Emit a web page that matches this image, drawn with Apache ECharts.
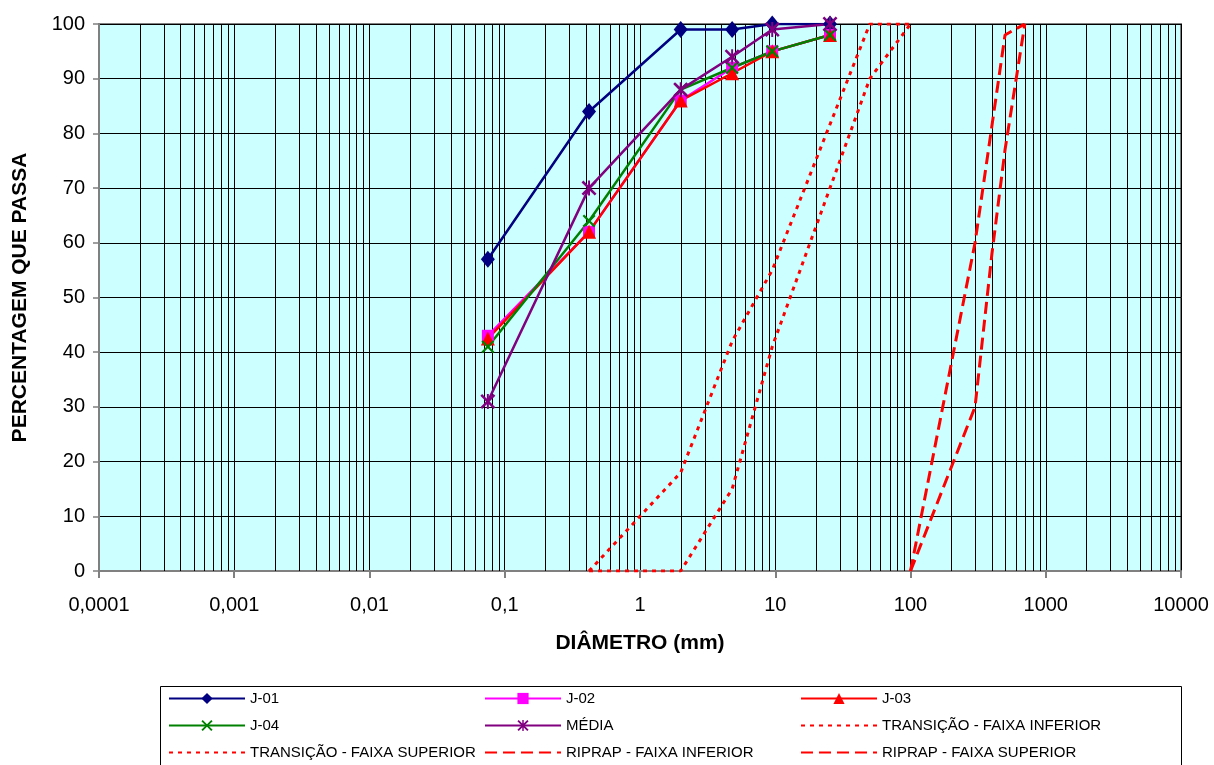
<!DOCTYPE html>
<html>
<head>
<meta charset="utf-8">
<script src="https://cdn.jsdelivr.net/npm/echarts@6/dist/echarts.min.js"></script>
<style>
html,body{margin:0;padding:0;background:#fff;}
#chart{width:1214px;height:765px;}
</style>
</head>
<body>
<div id="chart"></div>
<script>
// ---- data ----
const sieves = [0.075, 0.42, 2.0, 4.8, 9.5, 25.4];
const j01 = [57, 84, 99, 99, 100, 100];
const j02 = [43, 62, 86, 92, 95, 98];
const j03 = [42.5, 62, 86, 91, 95, 98];
const j04 = [41, 64, 88, 92, 95, 98];
const media = [31, 70, 88, 94, 99, 100];

const transInfD = [0.42, 2, 4.8, 9.5, 50, 100];
const transInfP = [0, 0, 15, 41, 90, 100];
const transSupD = [0.42, 1, 2, 4.8, 9.5, 50, 100];
const transSupP = [0, 10, 18, 42, 55, 100, 100];

const ripInfD = [100, 300, 400, 500, 700];
const ripInfP = [0, 30, 58, 77, 100];
const ripSupD = [100, 300, 500, 700];
const ripSupP = [0, 60, 98, 100];

const xTickValues = [0.0001, 0.001, 0.01, 0.1, 1, 10, 100, 1000, 10000];
const xTickLabels = ['0,0001', '0,001', '0,01', '0,1', '1', '10', '100', '1000', '10000'];

// minor log grid lines (2..9 x 10^k)
const minorGridX = [];
for (let k = -4; k <= 3; k++) {
  for (let m = 2; m <= 9; m++) minorGridX.push(+(m * Math.pow(10, k)).toPrecision(6));
}

function pairs(xs, ys) { return xs.map((x, i) => [x, ys[i]]); }

const FONT = 'Liberation Sans, Arial, sans-serif';
const X_PATH = 'path://M0,1.2 L1.2,0 L5,3.8 L8.8,0 L10,1.2 L6.2,5 L10,8.8 L8.8,10 L5,6.2 L1.2,10 L0,8.8 L3.8,5 Z';
const STAR_PATH = 'path://M0,1.2 L1.2,0 L5,3.8 L8.8,0 L10,1.2 L6.2,5 L10,8.8 L8.8,10 L5,6.2 L1.2,10 L0,8.8 L3.8,5 Z M4.35,0 L5.65,0 L5.65,10 L4.35,10 Z';

function dataSeries(name, ys, color, symbol, size) {
  return {
    name: name, type: 'line', data: pairs(sieves, ys), z: 4,
    symbol: symbol, symbolSize: size, showSymbol: true,
    lineStyle: { color: color, width: 2.5 },
    itemStyle: { color: color },
    emphasis: { disabled: true }
  };
}
function refSeries(name, xs, ys, dash) {
  return {
    name: name, type: 'line', data: pairs(xs, ys), z: 3,
    symbol: 'circle', showSymbol: false,
    lineStyle: { color: '#FF0000', width: 3, type: dash },
    itemStyle: { color: 'rgba(255,0,0,0)' },
    emphasis: { disabled: true }
  };
}

const chart = echarts.init(document.getElementById('chart'), null, { renderer: 'canvas' });

const legendCommon = {
  orient: 'vertical', top: 691, itemWidth: 76, itemHeight: 14, itemGap: 12,
  textStyle: { fontFamily: FONT, fontSize: 15, color: '#000' },
  selectedMode: false, padding: 0
};

chart.setOption({
  animation: false,
  backgroundColor: '#ffffff',
  grid: {
    left: 99, right: 33, top: 24, bottom: 194,
    show: true, backgroundColor: '#CCFFFF', borderColor: '#808080', borderWidth: 2
  },
  xAxis: {
    type: 'log', logBase: 10, min: 0.0001, max: 10000,
    name: 'DIÂMETRO (mm)', nameLocation: 'middle', nameGap: 62,
    nameTextStyle: { fontFamily: FONT, fontWeight: 'bold', fontSize: 21, color: '#000' },
    axisLine: { show: true, onZero: false, lineStyle: { color: '#808080', width: 2 } },
    axisTick: { show: true, inside: false, length: 7, lineStyle: { color: '#808080', width: 2 } },
    axisLabel: {
      margin: 24, fontFamily: FONT, fontSize: 20, color: '#000',
      formatter: function (v) {
        for (let i = 0; i < xTickValues.length; i++) {
          if (Math.abs(Math.log10(v) - Math.log10(xTickValues[i])) < 1e-6) return xTickLabels[i];
        }
        return '';
      }
    },
    splitLine: { show: true, lineStyle: { color: '#000', width: 1 } },
    minorTick: { show: false }, minorSplitLine: { show: false }
  },
  yAxis: {
    type: 'value', min: 0, max: 100, interval: 10,
    name: 'PERCENTAGEM QUE PASSA', nameLocation: 'middle', nameGap: 68, nameRotate: 90,
    nameTextStyle: { fontFamily: FONT, fontWeight: 'bold', fontSize: 21, color: '#000' },
    axisLine: { show: true, lineStyle: { color: '#808080', width: 2 } },
    axisTick: { show: true, inside: false, length: 6, lineStyle: { color: '#808080', width: 1.5 } },
    axisLabel: { margin: 14, fontFamily: FONT, fontSize: 20, color: '#000' },
    splitLine: { show: true, lineStyle: { color: '#000', width: 1 } }
  },
  legend: [
    Object.assign({}, legendCommon, { left: 168, data: ['J-01', 'J-04', 'TRANSIÇÃO - FAIXA SUPERIOR'] }),
    Object.assign({}, legendCommon, { left: 484, data: ['J-02', 'MÉDIA', 'RIPRAP - FAIXA INFERIOR'] }),
    Object.assign({}, legendCommon, { left: 800, data: ['J-03', 'TRANSIÇÃO - FAIXA INFERIOR', 'RIPRAP - FAIXA SUPERIOR'] })
  ],
  graphic: [{
    type: 'rect', left: 160, top: 686, z: -1,
    shape: { width: 1021, height: 90 },
    style: { fill: '#fff', stroke: '#000', lineWidth: 1 }
  }],
  series: [
    {
      name: '__grid', type: 'custom', z: 1, silent: true, clip: true,
      data: minorGridX.map(v => [v, 0]),
      encode: { x: 0, y: 1 },
      renderItem: function (params, api) {
        const v = api.value(0);
        const p1 = api.coord([v, 0]);
        const p2 = api.coord([v, 100]);
        const x = Math.round(p1[0]) + 0.5;
        return {
          type: 'line', silent: true,
          shape: { x1: x, y1: p1[1], x2: x, y2: p2[1] },
          style: { stroke: '#000', lineWidth: 1 }
        };
      }
    },
    dataSeries('J-01', j01, '#000080', 'diamond', [14, 17]),
    dataSeries('J-02', j02, '#FF00FF', 'rect', 12),
    dataSeries('J-03', j03, '#FF0000', 'triangle', 14),
    dataSeries('J-04', j04, '#008000', X_PATH, 13),
    dataSeries('MÉDIA', media, '#800080', STAR_PATH, 15),
    refSeries('TRANSIÇÃO - FAIXA INFERIOR', transInfD, transInfP, [4, 5]),
    refSeries('TRANSIÇÃO - FAIXA SUPERIOR', transSupD, transSupP, [4, 5]),
    refSeries('RIPRAP - FAIXA INFERIOR', ripInfD, ripInfP, [12, 6]),
    refSeries('RIPRAP - FAIXA SUPERIOR', ripSupD, ripSupP, [12, 6])
  ]
});
</script>
</body>
</html>
